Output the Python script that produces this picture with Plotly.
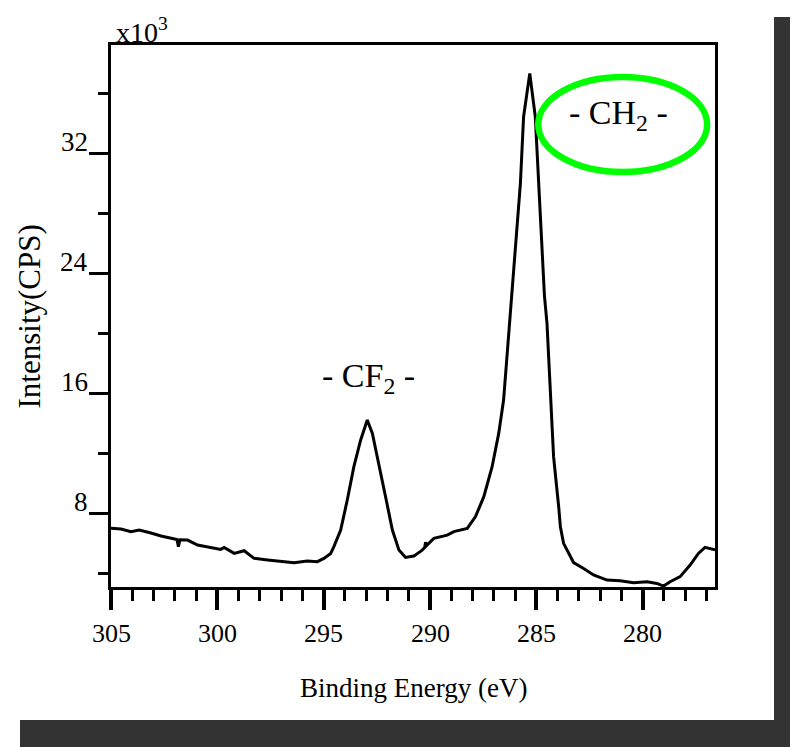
import plotly.graph_objects as go

# Binding energy (eV) and intensity (x10^3 CPS)
energy_ev = [305.00, 304.53, 304.06, 303.67, 303.12, 302.65, 301.90, 301.83, 301.76, 301.40,
             300.93, 300.31, 299.84, 299.68, 299.21, 298.74, 298.27, 297.64, 297.02, 296.39,
             295.77, 295.30, 294.99, 294.67, 294.52, 294.20, 293.89, 293.58, 293.26, 292.95,
             292.71, 292.40, 292.09, 291.77, 291.46, 291.15, 290.76, 290.37, 290.25, 290.21,
             290.15, 289.82, 289.19, 288.88, 288.25, 287.86, 287.47, 287.08, 286.77, 286.54,
             286.38, 286.22, 286.13, 285.91, 285.75, 285.60, 285.31, 285.05, 284.89, 284.73,
             284.62, 284.50, 284.34, 284.19, 283.95, 283.87, 283.72, 283.64, 283.25, 282.78,
             282.31, 281.68, 281.06, 280.43, 279.80, 279.33, 279.02, 278.71, 278.24, 277.77,
             277.38, 277.07, 276.75, 276.60]
intensity_k = [6.98, 6.93, 6.75, 6.87, 6.67, 6.47, 6.24, 5.75, 6.22, 6.20,
               5.87, 5.69, 5.58, 5.71, 5.31, 5.49, 4.98, 4.87, 4.80, 4.69,
               4.80, 4.76, 4.98, 5.31, 5.76, 6.87, 8.87, 11.09, 12.87, 14.20,
               13.31, 11.31, 9.09, 6.87, 5.53, 5.04, 5.13, 5.53, 5.70, 6.05,
               5.85, 6.31, 6.53, 6.76, 6.98, 7.76, 9.09, 11.09, 13.31, 15.53,
               18.42, 21.53, 22.87, 26.64, 29.98, 34.42, 37.31, 34.42, 29.98, 25.53,
               22.50, 20.64, 16.20, 11.76, 8.42, 7.09, 5.98, 5.76, 4.70, 4.31,
               3.87, 3.53, 3.49, 3.36, 3.42, 3.31, 3.13, 3.42, 3.76, 4.53,
               5.31, 5.71, 5.58, 5.55]

x_tick_vals = [305, 300, 295, 290, 285, 280]
x_tick_text = ["305", "300", "295", "290", "285", "280"]
y_tick_vals = [8, 16, 24, 32]
y_tick_text = ["8", "16", "24", "32"]
x_minor_vals = [304, 303, 302, 301, 299, 298, 297, 296, 294, 293, 292, 291,
                289, 288, 287, 286, 284, 283, 282, 281, 279, 278, 277]
y_minor_vals = [4, 12, 20, 28, 36]

x_title = "Binding Energy (eV)"
y_title = "Intensity(CPS)"
y_unit = "x10<sup>3</sup>"

peak_labels = ["- CF<sub>2</sub> -", "- CH<sub>2</sub> -"]
peak_label_x = [292.89, 281.15]
peak_label_y = [17.0, 34.53]

SERIF = "Liberation Serif"

fig = go.Figure()
fig.add_trace(go.Scatter(x=energy_ev, y=intensity_k, mode="lines",
                         line=dict(color="black", width=3), showlegend=False,
                         hoverinfo="skip"))

# page body has an 8px margin, so the figure is sized/offset to compensate
fig.update_layout(
    width=790, height=739,
    margin=dict(l=103, r=83, t=37, b=160, pad=0),
    paper_bgcolor="white", plot_bgcolor="white",
    font=dict(family=SERIF, color="black", size=26),
    showlegend=False,
)

fig.update_xaxes(
    range=[305, 276.6], showgrid=False, zeroline=False,
    showline=True, linecolor="black", linewidth=3, mirror=True,
    ticks="outside", ticklen=20, tickwidth=3.5, tickcolor="black",
    tickvals=x_tick_vals, showticklabels=False,
    minor=dict(tickvals=x_minor_vals, ticks="outside", ticklen=11, tickwidth=3,
               tickcolor="black", showgrid=False),
)
fig.update_yaxes(
    range=[3.07, 39.2], showgrid=False, zeroline=False,
    showline=True, linecolor="black", linewidth=3, mirror=True,
    ticks="outside", ticklen=19, tickwidth=3, tickcolor="black",
    tickvals=y_tick_vals, showticklabels=False,
    minor=dict(tickvals=y_minor_vals, ticks="outside", ticklen=10, tickwidth=3,
               tickcolor="black", showgrid=False),
)

annotations = []
for v, t in zip(x_tick_vals, x_tick_text):
    annotations.append(dict(x=v, xref="x", y=-0.085, yref="paper", text=t, showarrow=False,
                            xanchor="center", yanchor="middle",
                            font=dict(family=SERIF, size=26, color="black")))
for v, t in zip(y_tick_vals, y_tick_text):
    annotations.append(dict(x=-0.035, xref="paper", y=v, yref="y", text=t, showarrow=False,
                            xanchor="right", yanchor="bottom", yshift=-6,
                            font=dict(family=SERIF, size=27, color="black")))
annotations.append(dict(x=0.5, xref="paper", y=-0.186, yref="paper", text=x_title,
                        showarrow=False, xanchor="center", yanchor="middle",
                        font=dict(family=SERIF, size=27, color="black")))
annotations.append(dict(x=-0.135, xref="paper", y=0.5, yref="paper", text=y_title,
                        showarrow=False, textangle=-90, xanchor="center", yanchor="middle",
                        font=dict(family=SERIF, size=31, color="black")))
annotations.append(dict(x=0.005, xref="paper", y=1.0, yref="paper", text=y_unit,
                        showarrow=False, xanchor="left", yanchor="bottom", yshift=-5,
                        font=dict(family=SERIF, size=28, color="black")))
for t, xv, yv in zip(peak_labels, peak_label_x, peak_label_y):
    annotations.append(dict(x=xv, xref="x", y=yv, yref="y", text=t, showarrow=False,
                            xanchor="center", yanchor="middle",
                            font=dict(family=SERIF, size=34, color="black")))
fig.update_layout(annotations=annotations)

# green highlight ellipse around the CH2 label
fig.add_shape(type="circle", xref="x", yref="y", x0=284.91, x1=276.97, y0=30.73, y1=37.07,
              line=dict(color="#00ff00", width=6.5), fillcolor="rgba(0,0,0,0)")
# dark scan border at right and bottom
fig.add_shape(type="rect", xref="paper", yref="paper", x0=(774 - 111) / 604, x1=1.16,
              y0=-0.31, y1=(587 - 17) / 542, line=dict(width=0), fillcolor="#333333")
fig.add_shape(type="rect", xref="paper", yref="paper", x0=(20 - 111) / 604, x1=1.16,
              y0=-0.31, y1=(587 - 720) / 542, line=dict(width=0), fillcolor="#333333")
fig.add_shape(type="line", xref="paper", yref="paper", x0=(517 - 111) / 604, x1=(773 - 111) / 604,
              y0=(587 - 1) / 542, y1=(587 - 1) / 542, line=dict(color="#e6e6e6", width=2))

fig.write_html("out.html")
